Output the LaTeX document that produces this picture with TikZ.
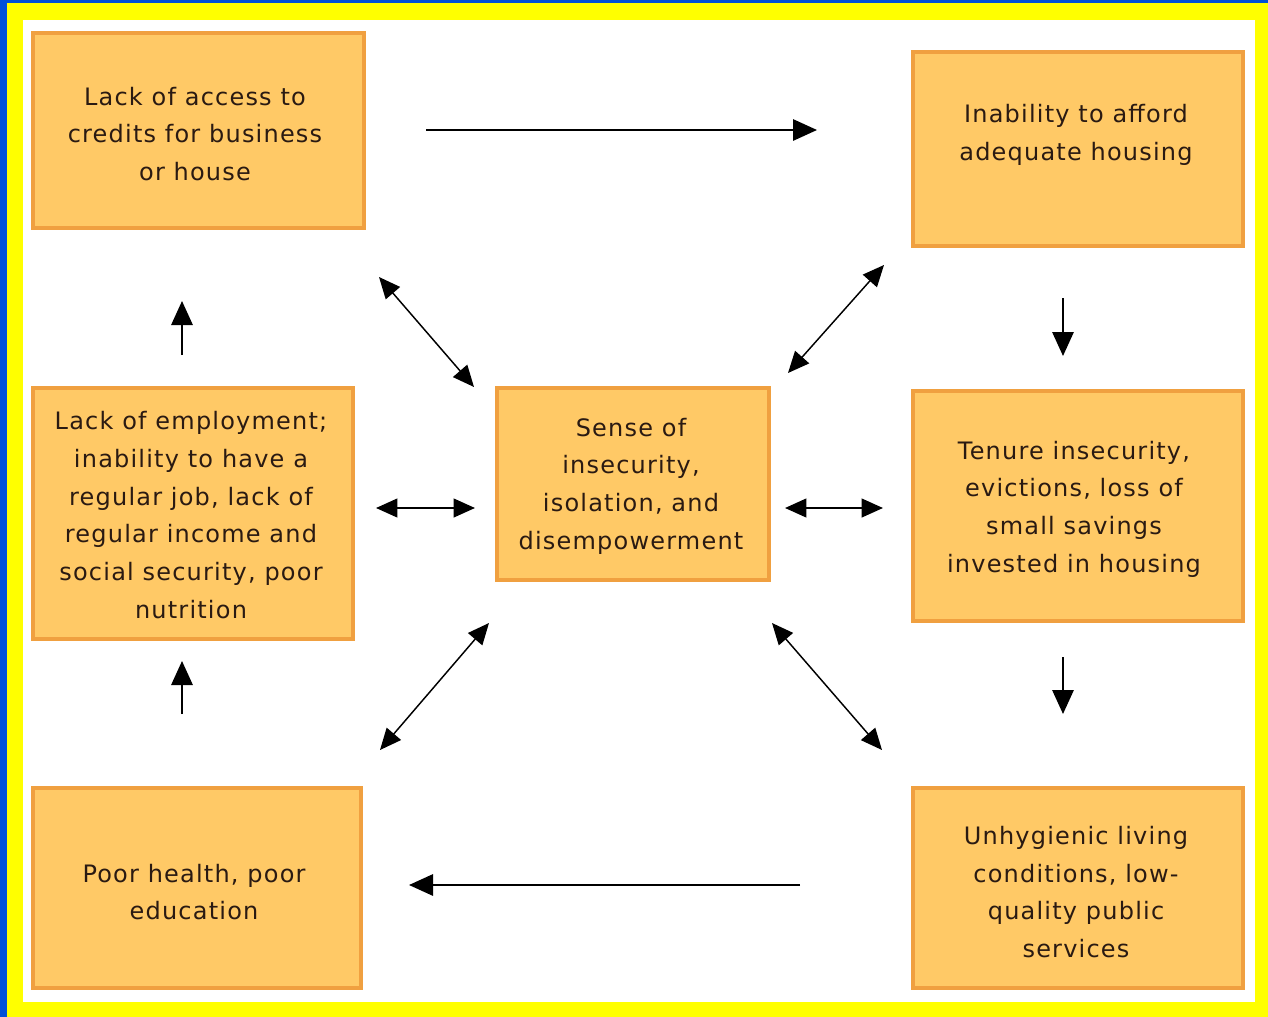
\documentclass[tikz,border=0pt]{standalone}
\usepackage{fontspec}
\setmainfont{DejaVu Sans}[LetterSpace=5]
\usetikzlibrary{arrows.meta}
\definecolor{outerblue}{HTML}{0050D8}
\definecolor{frameyellow}{HTML}{FFFF00}
\definecolor{boxfill}{HTML}{FFC966}
\definecolor{boxedge}{HTML}{F0A040}
\definecolor{txtcol}{HTML}{2A1A12}
\tikzset{
  box/.style={draw=boxedge, fill=boxfill, line width=3pt, inner sep=0pt},
  txt/.style={align=center, text=txtcol, font=\fontsize{18}{28.3}\selectfont, inner sep=0pt},
  conn/.style={line width=1.5pt, -{Triangle[length=18pt,width=16pt]}},
  dconn/.style={line width=1.1pt, {Triangle[length=16pt,width=14pt]}-{Triangle[length=16pt,width=14pt]}},
}
\begin{document}
\begin{tikzpicture}[x=0.75pt,y=-0.75pt]
\useasboundingbox (0,0) rectangle (1268,1017);
\fill[outerblue] (0,0) rectangle (1268,1017);
\fill[frameyellow] (7,3) rectangle (1268,1017);
\fill[white] (23,20) rectangle (1255,1002);

% boxes
\node[box, minimum width=248.25pt, minimum height=146.25pt] (b1) at (198.5,130.5) {};
\node[box, minimum width=247.5pt, minimum height=145.5pt] (b2) at (1078,149) {};
\node[box, minimum width=240pt, minimum height=188.25pt] (b3) at (193,513.5) {};
\node[box, minimum width=204pt, minimum height=144pt] (b4) at (633,484) {};
\node[box, minimum width=247.5pt, minimum height=172.5pt] (b5) at (1078,506) {};
\node[box, minimum width=246pt, minimum height=150pt] (b6) at (197,888) {};
\node[box, minimum width=247.5pt, minimum height=150pt] (b7) at (1078,888) {};

% texts
\node[txt] (t1) at (195,134) {Lack of access to\\credits for business\\or house};
\node[txt] (t2) at (1076,135) {Inability to afford\\adequate housing};
\node[txt] (t3) at (191,515) {Lack of employment;\\inability to have a\\regular job, lack of\\regular income and\\social security, poor\\nutrition};
\node[txt] (t4) at (631,486) {Sense of\\insecurity,\\isolation, and\\disempowerment};
\node[txt] (t5) at (1074,509) {Tenure insecurity,\\evictions, loss of\\small savings\\invested in housing};
\node[txt] (t6) at (194,892) {Poor health, poor\\education};
\node[txt] (t7) at (1076,892) {Unhygienic living\\conditions, low-\\quality public\\services};

% connector end points
\coordinate (a1s) at (426,130); \coordinate (a1e) at (817,130);
\coordinate (a2s) at (800,885); \coordinate (a2e) at (409,885);
\coordinate (a3s) at (182,355); \coordinate (a3e) at (182,301);
\coordinate (a4s) at (182,714); \coordinate (a4e) at (182,661);
\coordinate (a5s) at (1063,298); \coordinate (a5e) at (1063,356);
\coordinate (a6s) at (1063,657); \coordinate (a6e) at (1063,714);
\coordinate (d1a) at (379,277); \coordinate (d1b) at (474,387);
\coordinate (d2a) at (884,265); \coordinate (d2b) at (788,373);
\coordinate (d3a) at (380,750); \coordinate (d3b) at (489,623);
\coordinate (d4a) at (772,623); \coordinate (d4b) at (882,750);
\coordinate (h1a) at (376,508); \coordinate (h1b) at (475,508);
\coordinate (h2a) at (785,508); \coordinate (h2b) at (883,508);

\draw[conn] (a1s) -- (a1e);
\draw[conn] (a2s) -- (a2e);
\draw[conn] (a3s) -- (a3e);
\draw[conn] (a4s) -- (a4e);
\draw[conn] (a5s) -- (a5e);
\draw[conn] (a6s) -- (a6e);
\draw[dconn] (d1a) -- (d1b);
\draw[dconn] (d2a) -- (d2b);
\draw[dconn] (d3a) -- (d3b);
\draw[dconn] (d4a) -- (d4b);
\draw[dconn, line width=1.6pt] (h1a) -- (h1b);
\draw[dconn, line width=1.6pt] (h2a) -- (h2b);
\end{tikzpicture}
\end{document}
